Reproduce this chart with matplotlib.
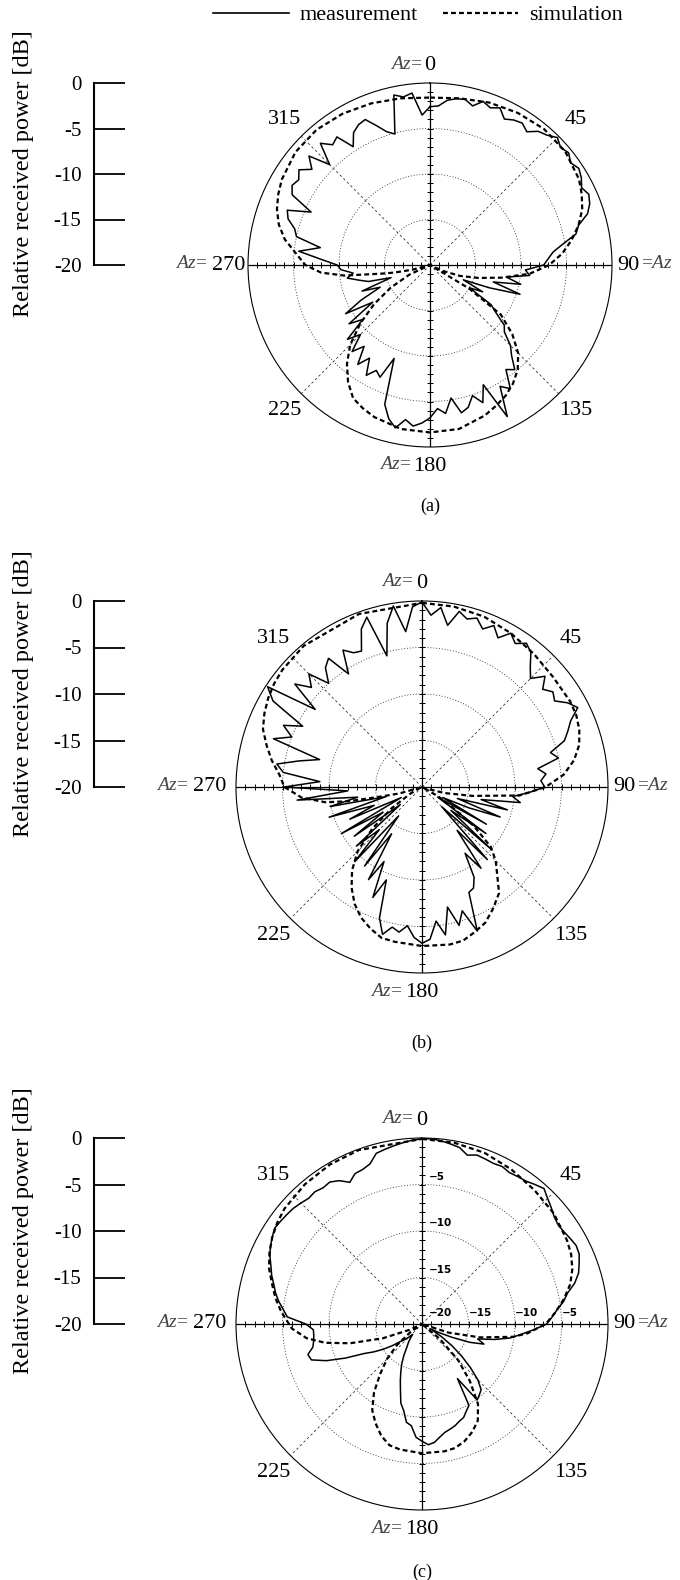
"""Polar radiation patterns (a)-(c): measured vs simulated relative received power."""
import numpy as np
import matplotlib
matplotlib.use("Agg")
import matplotlib.pyplot as plt
from matplotlib.lines import Line2D

plt.rcParams["font.family"] = ["Liberation Serif", "DejaVu Serif"]
plt.rcParams["mathtext.fontset"] = "custom"
plt.rcParams["mathtext.rm"] = "Liberation Serif"
plt.rcParams["mathtext.it"] = "Liberation Serif:italic"

W, H = 680, 1580

# azimuth sampling of the measurement (deg)
AZ_MEAS = np.arange(0, 360, 3)

MEAS_A = [-2.6, -2.5, -1.8, -1.5, -1.4, -1.9, -1.1, -1.5, -1.1, -2.0,
          -1.6, -1.4, -1.9, -1.1, -0.8, -0.2, -0.7, -0.4, -0.9, -0.5,
          -0.8, -1.3, -0.9, -1.2, -1.8, -3.1, -3.6, -5.2, -6.4, -7.0,
          -7.5, -9.5, -9.0, -11.5, -9.8, -12.8, -9.6, -13.0, -16.0, -13.5,
          -15.0, -12.0, -11.0, -9.5, -9.0, -7.5, -6.6, -5.2, -5.8, -3.8,
          -4.6, -1.3, -5.6, -3.8, -4.9, -3.8, -3.4, -5.2, -3.6, -4.2,
          -3.2, -2.6, -2.2, -2.8, -1.7, -2.5, -3.9, -9.0, -6.5, -7.0,
          -6.0, -7.8, -6.5, -8.5, -7.2, -9.2, -7.8, -10.5, -9.0, -12.5,
          -9.3, -11.5, -14.0, -12.0, -15.5, -13.0, -12.0, -10.8, -11.5, -10.2,
          -9.8, -8.0, -5.5, -7.8, -5.0, -4.6, -3.6, -3.2, -5.7, -3.0,
          -2.5, -2.8, -2.2, -3.3, -2.1, -4.4, -2.0, -3.0, -2.6, -4.5,
          -3.2, -2.7, -2.5, -3.6, -4.6, -5.1, -0.9, -1.3, -1.0, -3.5]

MEAS_B = [-0.1, -1.5, -0.6, -2.4, -0.7, -1.3, -0.9, -1.8, -1.0, -2.0,
          -0.9, -1.6, -0.9, -1.4, -2.6, -3.5, -2.2, -3.3, -2.6, -3.0,
          -1.9, -1.2, -2.5, -3.2, -3.9, -5.7, -5.0, -7.4, -6.6, -7.2,
          -6.8, -8.5, -10.2, -9.3, -13.5, -10.5, -16.0, -11.0, -14.5, -17.5,
          -12.0, -18.0, -11.5, -16.0, -10.0, -17.0, -9.5, -14.0, -9.2, -11.5,
          -8.8, -7.8, -7.6, -3.4, -6.0, -4.6, -6.8, -3.9, -5.5, -3.6,
          -3.2, -3.8, -5.0, -4.2, -4.6, -3.6, -5.2, -9.3, -7.0, -11.0,
          -8.5, -14.0, -9.5, -16.0, -9.2, -13.5, -10.5, -17.0, -11.0, -15.0,
          -10.0, -17.5, -11.5, -14.5, -9.5, -16.0, -9.9, -13.0, -6.5, -12.0,
          -5.2, -9.0, -5.0, -4.2, -6.5, -8.6, -3.2, -5.0, -3.7, -5.6,
          -1.5, -0.2, -5.8, -2.4, -4.0, -2.8, -5.0, -3.5, -2.9, -5.5,
          -3.0, -3.8, -4.0, -1.8, -0.8, -5.4, -2.0, -0.3, -3.2, -0.6]

MEAS_C = [-0.1, -0.05, -0.2, -0.4, -0.6, -1.2, -0.9, -1.0, -1.1, -1.0,
          -1.2, -1.1, -1.0, -0.7, -0.4, -0.9, -1.3, -1.7, -1.9, -1.8,
          -1.6, -1.4, -1.5, -1.9, -2.3, -3.0, -4.0, -4.6, -5.4, -6.0,
          -6.6, -8.0, -9.3, -10.4, -12.0, -13.8, -13.0, -14.5, -16.5, -18.0,
          -19.0, -17.5, -16.0, -14.5, -13.0, -11.5, -10.5, -10.2, -9.9, -13.0,
          -9.9, -9.5, -9.0, -8.8, -8.5, -8.3, -8.1, -7.7, -7.2, -7.0,
          -7.4, -7.8, -9.0, -9.3, -10.5, -11.2, -12.5, -13.5, -14.4, -15.2,
          -16.1, -17.0, -17.5, -18.0, -18.5, -18.0, -17.5, -17.0, -16.0, -15.0,
          -14.0, -13.0, -11.0, -9.0, -7.5, -7.3, -8.0, -8.2, -8.3, -8.3,
          -7.5, -5.5, -5.0, -4.4, -3.9, -3.5, -3.0, -2.6, -2.1, -1.7,
          -1.4, -1.1, -1.2, -1.3, -1.4, -1.6, -1.8, -1.7, -1.9, -1.8,
          -2.2, -2.9, -2.3, -2.2, -1.9, -1.0, -0.8, -0.6, -0.4, -0.2]

SIM_A_AZ = [0, 10, 20, 30, 40, 50, 60, 65, 70, 75, 80, 85, 90, 95, 100, 105, 110,
            115, 118, 121, 125, 130, 135, 140, 145, 150, 155, 160, 170, 180, 190,
            200, 205, 210, 215, 220, 225, 230, 235, 240, 245, 250, 255, 258, 260,
            263, 266, 270, 275, 280, 285, 290, 295, 300, 310, 320, 330, 340, 350, 360]
SIM_A_DB = [-1.6, -1.4, -1.0, -0.7, -0.5, -0.6, -1.1, -1.6, -2.2, -3.1, -4.2, -5.4,
            -6.9, -9.0, -12.0, -14.5, -16.5, -18.5, -20.0, -15.0, -10.5, -8.2, -6.3,
            -5.0, -4.1, -3.4, -2.9, -2.4, -1.7, -1.6, -1.7, -2.2, -2.6, -3.1, -4.3,
            -5.8, -7.6, -10.0, -12.5, -15.0, -17.5, -20.0, -18.0, -16.0, -14.5,
            -10.5, -8.0, -6.3, -5.2, -3.8, -2.8, -2.1, -1.6, -1.2, -0.7, -0.6, -0.8,
            -1.1, -1.4, -1.6]

SIM_B_AZ = [0, 10, 20, 30, 40, 50, 60, 65, 70, 75, 80, 85, 90, 95, 100, 105, 110,
            115, 120, 123, 127, 131, 135, 139, 144, 150, 155, 160, 165, 170, 180,
            190, 195, 200, 205, 210, 215, 220, 225, 230, 235, 240, 245, 250, 254,
            257, 259, 261, 265, 270, 275, 280, 285, 290, 295, 300, 305, 310, 320,
            340, 360]
SIM_B_DB = [-0.2, -0.3, -0.5, -0.9, -1.3, -1.6, -1.6, -1.7, -2.0, -2.5, -3.4, -4.7,
            -6.7, -9.5, -14.5, -17.5, -19.5, -20.0, -18.0, -16.5, -13.0, -10.2, -8.8,
            -7.7, -5.9, -4.8, -3.9, -3.4, -2.9, -2.8, -2.9, -3.1, -3.2, -3.8, -4.5,
            -5.5, -6.8, -8.3, -10.2, -13.0, -16.0, -18.5, -19.5, -20.0, -17.5, -15.4,
            -12.0, -9.5, -7.0, -5.2, -4.6, -3.6, -2.7, -1.8, -1.3, -0.9, -0.6, -0.4,
            -0.2, -0.2, -0.2]

SIM_C_AZ = [0, 10, 20, 30, 40, 50, 60, 65, 70, 75, 80, 85, 90, 95, 98, 103, 108,
            113, 120, 125, 130, 135, 140, 145, 150, 155, 160, 165, 170, 180, 190,
            195, 200, 205, 210, 215, 220, 225, 230, 235, 240, 245, 250, 255, 259,
            263, 268, 275, 280, 285, 290, 295, 300, 305, 310, 320, 330, 340, 360]
SIM_C_DB = [-0.1, -0.2, -0.4, -0.8, -1.2, -1.5, -2.0, -2.3, -2.8, -3.5, -4.5, -5.6,
            -6.7, -8.6, -10.1, -13.6, -17.0, -20.0, -20.0, -20.0, -17.5, -14.5, -12.0,
            -9.5, -8.0, -7.2, -6.6, -6.2, -6.1, -6.1, -6.3, -6.5, -7.2, -8.2, -9.3,
            -11.0, -13.0, -14.7, -16.5, -18.5, -20.0, -18.5, -15.5, -12.0, -9.4,
            -7.5, -6.0, -4.8, -4.0, -3.3, -2.5, -1.9, -1.4, -1.0, -0.7, -0.4, -0.2,
            -0.1, -0.1]

SCALE_TICKS = [0, -5, -10, -15, -20]
RING_LEVELS = [-15, -10, -5]
# in-plot level labels of panel (c)
VERT_LEVELS = [-5, -10, -15]
VERT_LABELS = ["\u22125", "\u221210", "\u221215"]
HORIZ_LEVELS = [-20, -15, -10, -5]
HORIZ_LABELS = ["\u221220", "\u221215", "\u221210", "\u22125"]

# panel layout in pixels: centre x, centre y, radius, caption
PANELS = [
    dict(cx=430, cy=265, R=182, cap="(a)", cap_y=506, meas=MEAS_A,
         sim=(SIM_A_AZ, SIM_A_DB), gap=False, inner=False),
    dict(cx=422, cy=787, R=186, cap="(b)", cap_y=1043, meas=MEAS_B,
         sim=(SIM_B_AZ, SIM_B_DB), gap=True, inner=False),
    dict(cx=422, cy=1324, R=186, cap="(c)", cap_y=1572, meas=MEAS_C,
         sim=(SIM_C_AZ, SIM_C_DB), gap=True, inner=True),
]

NUM_FS = 16
AZ_KW = dict(fontsize=14, color="#444444", textcoords="offset points",
             va="center", annotation_clip=False)


def draw_panel(fig, p):
    cx, cy, R = p["cx"], p["cy"], p["R"]
    ax = fig.add_axes([(cx - R) / W, 1 - (cy + R) / H, 2 * R / W, 2 * R / H],
                      projection="polar")
    ax.set_theta_zero_location("N")
    ax.set_theta_direction(-1)
    ax.set_ylim(-20, 0)
    ax.grid(False)
    ax.set_yticks([])
    ax.set_xticks(np.deg2rad(np.arange(0, 360, 5)))
    ax.set_xticklabels([])
    ax.tick_params(axis="x", direction="in", length=4, width=0.7, pad=0)
    ax.spines["polar"].set_linewidth(0.8)

    full = np.linspace(0, 2 * np.pi, 361)
    for lv in RING_LEVELS:
        ax.plot(full, np.full(full.size, lv), color="#333333", lw=0.6,
                ls=(0, (1.2, 2.2)))
    for d in (45, 135, 225, 315):
        ax.plot([np.deg2rad(d)] * 2, [-20, 0], color="#333333", lw=0.6,
                ls=(0, (3, 3)))
    for d in (0, 90, 180, 270):
        ax.plot([np.deg2rad(d)] * 2, [-20, 0], color="k", lw=0.9)
    rt = np.arange(-19, 0)
    for d, mk in ((0, "_"), (180, "_"), (90, "|"), (270, "|")):
        ax.plot(np.full(rt.size, np.deg2rad(d)), rt, ls="none", marker=mk,
                ms=4, mew=0.7, color="k")

    # simulation + measurement
    saz, sdb = p["sim"]
    ax.plot(np.deg2rad(saz), sdb, color="k", lw=1.6, ls=(0, (2.2, 1.4)))
    maz = np.append(AZ_MEAS, 360)
    mdb = np.append(p["meas"], p["meas"][0])
    ax.plot(np.deg2rad(maz), mdb, color="k", lw=1.1)

    # azimuth labels
    for d in (45, 135, 225, 315):
        ax.text(np.deg2rad(d), 2.6, str(d), fontsize=NUM_FS, ha="center",
                va="center")
    eq = "= " if p["gap"] else "="
    ax.text(0, 1.9, "0", fontsize=NUM_FS, ha="center", va="center")
    ax.annotate(r"$Az$" + eq, (0, 1.9), xytext=(-5, 1), ha="right", **AZ_KW)
    ax.text(np.pi, 2.1, "180", fontsize=NUM_FS, ha="center", va="center")
    ax.annotate(r"$Az$" + eq, (np.pi, 2.1), xytext=(-13, 1), ha="right", **AZ_KW)
    r270 = 1.0 if p["gap"] else 0.3
    ax.text(np.deg2rad(270), r270, "270", fontsize=NUM_FS, ha="right", va="center")
    ax.annotate(r"$Az$" + eq, (np.deg2rad(270), r270), xytext=(-27, 1),
                ha="right", **AZ_KW)
    ax.text(np.deg2rad(90), 0.6, "90", fontsize=NUM_FS, ha="left", va="center")
    ax.annotate(r"=$Az$", (np.deg2rad(90), 0.6), xytext=(17, 1), ha="left",
                **AZ_KW)

    if p["inner"]:
        ikw = dict(fontsize=7.5, family="DejaVu Sans", fontweight="bold",
                   textcoords="offset points", ha="left", va="bottom")
        for lv, s in zip(VERT_LEVELS, VERT_LABELS):
            ax.annotate(s, (0, lv), xytext=(5, 2), **ikw)
        for lv, s in zip(HORIZ_LEVELS, HORIZ_LABELS):
            ax.annotate(s, (np.pi / 2, lv), xytext=(5 if lv == -20 else 0, 4),
                        **ikw)

    fig.text(cx / W, 1 - p["cap_y"] / H, p["cap"], ha="center", va="center",
             fontsize=13)

    # dB scale bar on the left
    sx = 94
    sax = fig.add_axes([sx / W, 1 - cy / H, 31 / W, R / H])
    sax.set_ylim(-20, 0)
    sax.set_xticks([])
    sax.set_yticks(SCALE_TICKS)
    sax.set_yticklabels([str(v) for v in SCALE_TICKS])
    sax.tick_params(axis="y", direction="in", length=22.5, width=1.3, pad=9,
                    labelsize=15)
    for s in ("top", "right", "bottom"):
        sax.spines[s].set_visible(False)
    sax.spines["left"].set_linewidth(1.5)
    sax.patch.set_visible(False)
    fig.text(24 / W, 1 - (cy - R / 2) / H, "Relative received power [dB]",
             rotation=90, ha="center", va="center", fontsize=17.5)


def main():
    fig = plt.figure(figsize=(W / 100, H / 100), dpi=100)
    for p in PANELS:
        draw_panel(fig, p)
    handles = [Line2D([], [], color="k", lw=1.2),
               Line2D([], [], color="k", lw=1.6, ls=(0, (2.2, 1.4)))]
    fig.legend(handles, ["measurement", "simulation"], loc="upper center",
               bbox_to_anchor=(0.615, 1.004), ncol=2, frameon=False, fontsize=16,
               handlelength=3.4, columnspacing=1.1, handletextpad=0.5,
               borderaxespad=0.1)
    fig.savefig("out.png", dpi=100)


if __name__ == "__main__":
    main()
